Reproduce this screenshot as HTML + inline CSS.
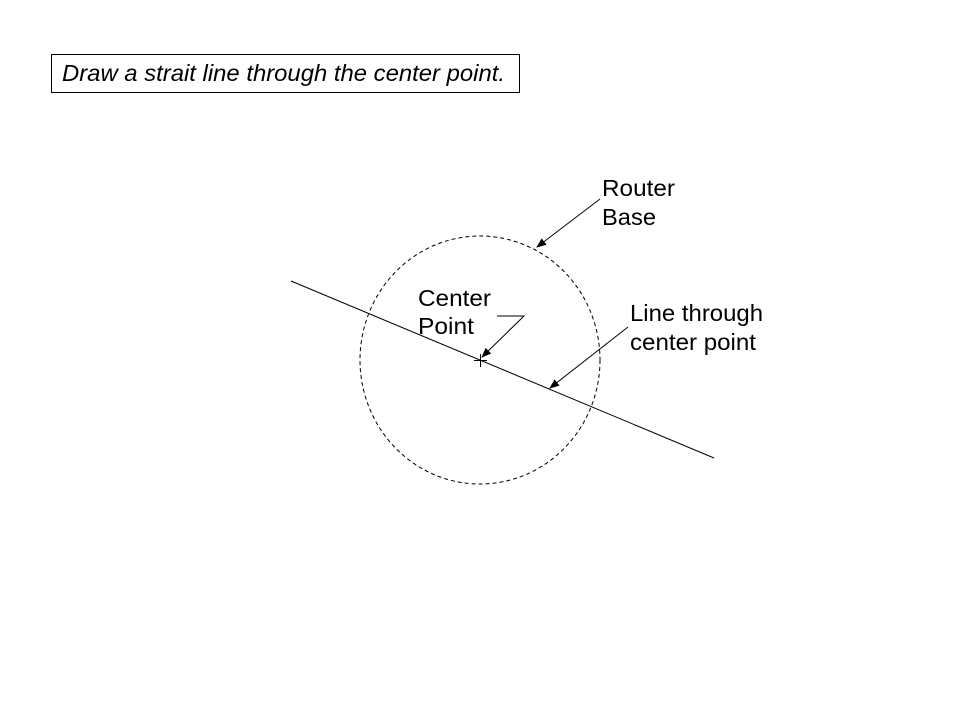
<!DOCTYPE html>
<html><head><style>
html,body{margin:0;padding:0;background:#fff;width:960px;height:720px;overflow:hidden}
text{font-family:"Liberation Sans",Arial,sans-serif;font-size:23px;fill:#000}
</style></head><body>
<svg width="960" height="720" viewBox="0 0 960 720" xmlns="http://www.w3.org/2000/svg">
<defs><marker id="a" markerWidth="10" markerHeight="8" refX="9" refY="4" orient="auto" markerUnits="userSpaceOnUse"><path d="M0,0 L10,4 L0,8 Z" fill="#000"/></marker></defs>
<rect x="51.5" y="54.5" width="468" height="38" fill="#fff" stroke="#000" stroke-width="1"/>
<text x="62" y="81" font-style="italic" textLength="443" lengthAdjust="spacingAndGlyphs">Draw a strait line through the center point.</text>
<ellipse cx="480" cy="360" rx="120" ry="124" fill="none" stroke="#000" stroke-width="1" stroke-dasharray="4,3"/>
<line x1="291" y1="281" x2="714" y2="458" stroke="#000" stroke-width="1"/>
<line x1="474" y1="360.5" x2="487" y2="360.5" stroke="#000"/>
<line x1="480.5" y1="354" x2="480.5" y2="367" stroke="#000"/>
<polyline points="497,316 524,316 482,357" fill="none" stroke="#000" marker-end="url(#a)"/>
<line x1="600" y1="199" x2="537" y2="247" stroke="#000" marker-end="url(#a)"/>
<line x1="628" y1="327" x2="550" y2="388" stroke="#000" marker-end="url(#a)"/>
<text x="602" y="196" textLength="73" lengthAdjust="spacingAndGlyphs">Router</text>
<text x="602" y="225" textLength="54" lengthAdjust="spacingAndGlyphs">Base</text>
<text x="418" y="306" textLength="73" lengthAdjust="spacingAndGlyphs">Center</text>
<text x="418" y="334" textLength="56" lengthAdjust="spacingAndGlyphs">Point</text>
<text x="630" y="321" textLength="133" lengthAdjust="spacingAndGlyphs">Line through</text>
<text x="630" y="350" textLength="126" lengthAdjust="spacingAndGlyphs">center point</text>
</svg>
</body></html>
